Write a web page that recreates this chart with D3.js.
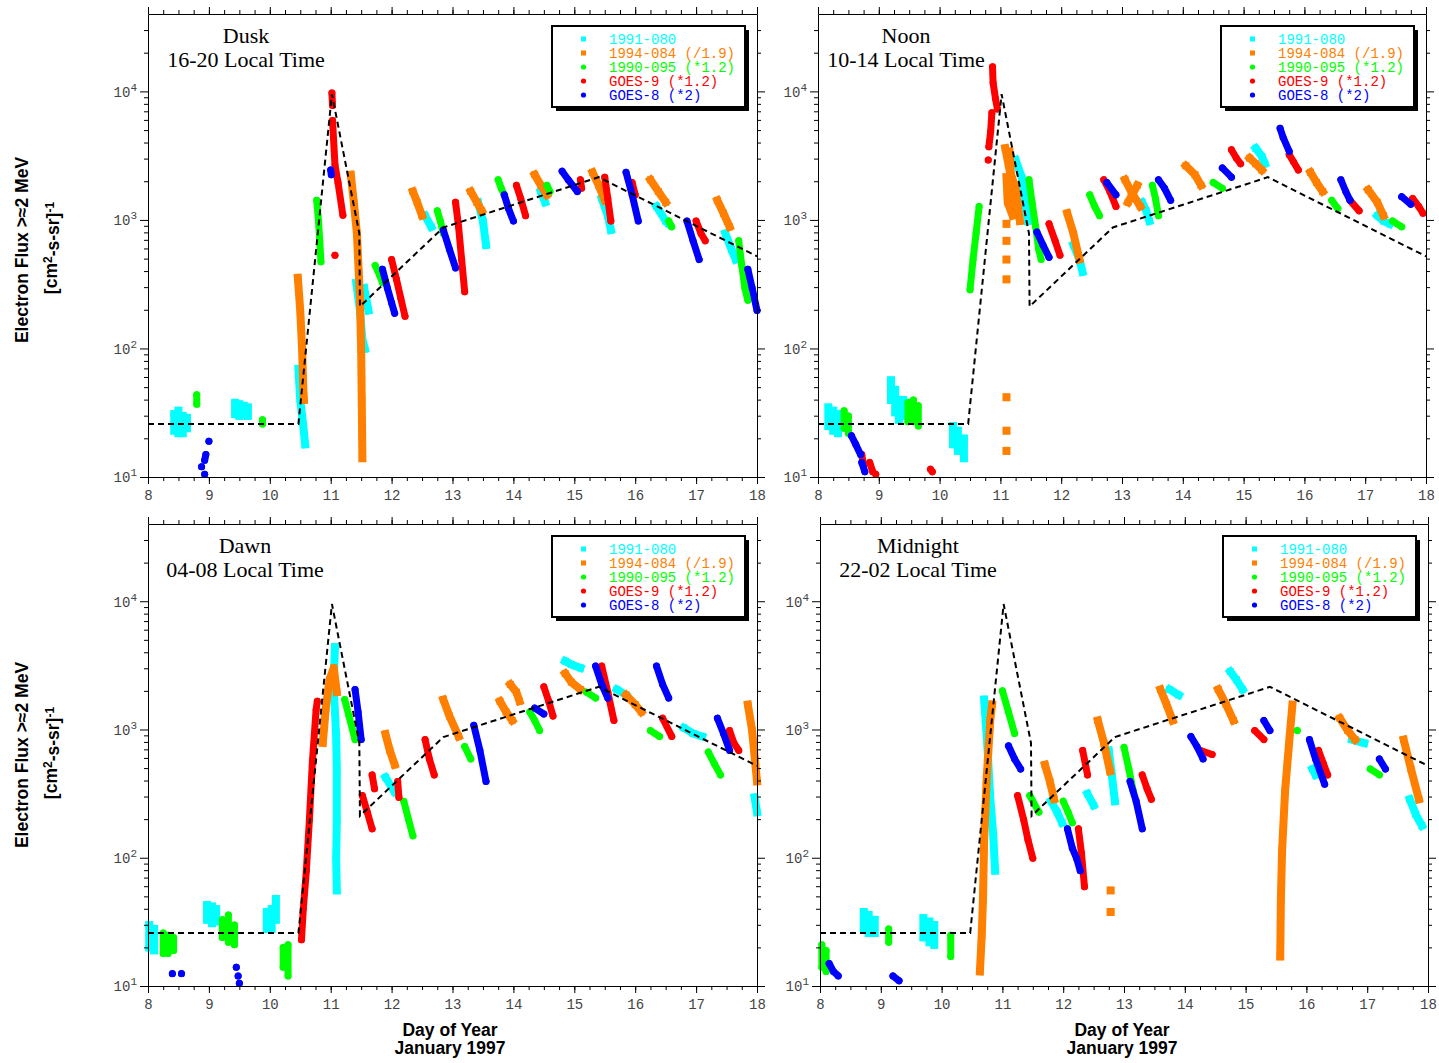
<!doctype html>
<html lang="en">
<head>
<meta charset="utf-8">
<title>Electron Flux, January 1997</title>
<script src="https://d3js.org/d3.v7.min.js"></script>
<style>
  body { margin: 0; background: #fff; }
  .tick text { font-family: "Liberation Mono", monospace; font-size: 14px; fill: #444; }
  .axis path, .axis line { stroke: #000; stroke-width: 1; }
  .ttl { font-family: "Liberation Serif", serif; font-size: 22px; fill: #000; }
  .lab { font-family: "Liberation Sans", Arial, sans-serif; font-size: 17.5px; font-weight: bold; fill: #000; }
  .leg { font-family: "Liberation Mono", monospace; font-size: 14px; }
</style>
</head>
<body>
<svg id="chart" width="1439" height="1063"></svg>
<script>
// ---- data: streaks of [day, flux] per spacecraft per local time sector ----
var xTicks = [8, 9, 10, 11, 12, 13, 14, 15, 16, 17, 18];
var yTickExps = [1, 2, 3, 4];
var seriesLabels = ["1991-080", "1994-084 (/1.9)", "1990-095 (*1.2)", "GOES-9 (*1.2)", "GOES-8 (*2)"];

// dashed reference curve (same in every panel)
var modelDays = [8, 10.47, 11.02, 11.47, 11.48, 12.85, 15.4, 18];
var modelFlux = [26, 26, 9800, 800, 215, 890, 2200, 530];

// Dusk 16-20
var duskC = [[[8.43,31],[8.43,23]], [[8.5,33],[8.5,22]], [[8.57,30],[8.57,22]], [[8.64,29],[8.64,24]],
  [[9.43,38],[9.43,31]], [[9.5,37],[9.5,30]], [[9.57,36],[9.57,31]], [[9.64,35],[9.64,30]],
  [[10.47,70],[10.5,40],[10.55,25],[10.58,18]],
  [[11.42,330],[11.48,200],[11.52,120],[11.56,100]], [[11.55,300],[11.62,200]],
  [[12.55,1100],[12.65,900]], [[13.42,1400],[13.5,1000],[13.55,650]],
  [[14.45,1700],[14.52,1400]], [[15.45,1500],[15.55,1100],[15.6,850]],
  [[16.35,1300],[16.5,1000],[16.55,950]], [[17.48,800],[17.58,600],[17.65,500]]];
var duskO = [[[10.46,360],[10.5,200],[10.53,100],[10.55,50],[10.56,40]],
  [[11.33,2300],[11.38,1400],[11.43,800],[11.46,400],[11.48,250],[11.5,100],[11.51,40],[11.52,14]],
  [[12.35,1700],[12.42,1400],[12.5,1100]], [[13.3,1700],[13.4,1400],[13.48,1200]],
  [[14.35,2300],[14.45,1900],[14.55,1600]], [[15.3,2400],[15.4,1900],[15.5,1450]],
  [[16.25,2100],[16.38,1700],[16.5,1400]], [[17.35,1450],[17.45,1150],[17.55,900]]];
var duskG = [[[8.8,44],[8.8,37]], [[9.88,28],[9.88,26]],
  [[10.77,1450],[10.8,1000],[10.82,700],[10.84,480]],
  [[11.73,450],[11.8,380],[11.85,330]], [[12.75,1200],[12.8,1000],[12.85,800]],
  [[13.75,2100],[13.8,1800],[13.85,1600]], [[14.55,1900],[14.6,1700]],
  [[16.55,1000],[16.6,900]], [[17.7,700],[17.75,450],[17.8,300],[17.85,240]]];
var duskR = [[[11.02,10000],[11.03,8000]],
  [[11.03,6100],[11.07,2750],[11.12,2000],[11.2,1110]], [[11.07,540]],
  [[12.0,500],[12.08,350],[12.15,250],[12.22,180]],
  [[13.05,1400],[13.1,900],[13.15,500],[13.2,280]],
  [[14.05,1900],[14.12,1500],[14.2,1100]], [[15.1,2100],[15.12,1800]],
  [[15.5,2200],[15.55,1500],[15.6,1000]], [[15.95,2000],[16.0,1600]],
  [[17.0,1000],[17.08,800],[17.15,700]]];
var duskB = [[[9.0,19]], [[8.95,15],[8.93,13.5]], [[8.88,12]], [[8.93,10.5]],
  [[11.0,2500],[11.01,2300]], [[11.85,420],[11.93,300],[12.0,230],[12.05,190]],
  [[12.85,850],[12.95,600],[13.05,430]], [[13.85,1600],[13.92,1250],[14.0,1000]],
  [[14.8,2450],[14.9,2100],[15.05,1700]], [[15.85,2400],[15.95,1600],[16.05,1000]],
  [[16.85,1000],[16.95,700],[17.05,500]], [[17.85,420],[17.92,300],[18.0,200]]];

// Noon 10-14
var noonC = [[[8.17,35],[8.17,25]], [[8.25,33],[8.25,23]], [[8.33,31],[8.33,22]],
  [[9.2,57],[9.2,40]], [[9.27,48],[9.27,32]], [[9.33,40],[9.33,28]],
  [[9.4,40],[9.4,30]], [[9.5,38],[9.5,29]],
  [[10.22,25],[10.22,18]], [[10.3,23],[10.3,16]], [[10.4,20],[10.4,14]],
  [[11.25,3000],[11.35,2200],[11.45,1000]],
  [[12.2,650],[12.3,500],[12.35,400]], [[13.33,1400],[13.4,1200],[13.45,1000]],
  [[15.2,3700],[15.3,3200],[15.35,2800]], [[17.2,1100],[17.3,1000],[17.4,950]]];
var noonO = [[[11.08,3700],[11.15,2500],[11.25,1800],[11.32,1000]],
  [[11.1,2200],[11.12,1400],[11.2,1100]], [[11.15,3500],[11.18,2000],[11.22,1300]],
  [[11.1,950]], [[11.1,700]], [[11.1,500]], [[11.1,350]], [[11.1,42]], [[11.1,23]], [[11.1,16]],
  [[12.1,1150],[12.2,800],[12.3,500]], [[13.05,2100],[13.15,1700],[13.3,1300]],
  [[13.1,1400],[13.25,1900]], [[14.05,2700],[14.2,2300],[14.3,1900]],
  [[15.1,3100],[15.2,2800],[15.3,2500]], [[16.1,2400],[16.2,2000],[16.3,1700]],
  [[17.05,1750],[17.2,1400],[17.3,1100]]];
var noonG = [[[8.43,33],[8.43,24]], [[8.5,30],[8.5,22]],
  [[9.48,38],[9.48,27]], [[9.57,40],[9.57,27]], [[9.65,36],[9.65,25]],
  [[10.5,290],[10.55,500],[10.6,800],[10.65,1300]],
  [[11.47,2100],[11.52,1400],[11.58,900],[11.63,600],[11.67,500]],
  [[12.47,1600],[12.55,1300],[12.63,1100]], [[13.5,1900],[13.55,1500],[13.6,1100]],
  [[14.5,2000],[14.65,1800]], [[16.45,1450],[16.55,1250]], [[17.45,1000],[17.6,900]]];
var noonR = [[[8.72,15],[8.75,12]], [[8.85,13],[8.9,11]], [[8.95,10.5]], [[9.85,11.5],[9.88,11]],
  [[10.87,16000],[10.88,12000],[10.92,9000],[10.95,7500]],
  [[10.86,7000],[10.84,5000],[10.81,3800]], [[10.8,3000]],
  [[11.8,950],[11.9,700],[11.98,540]], [[12.7,2100],[12.8,1700],[12.9,1300]],
  [[14.8,3600],[14.88,3100],[14.95,2800]], [[15.75,3300],[15.82,2900],[15.9,2500]],
  [[16.75,1450],[16.9,1200]], [[17.78,1500],[17.88,1300],[17.95,1150]]];
var noonB = [[[8.55,21],[8.62,18],[8.7,15]], [[8.72,13],[8.77,11]],
  [[11.6,820],[11.7,650],[11.8,520]], [[12.75,2000],[12.9,1600]],
  [[13.6,2100],[13.7,1800],[13.8,1450]], [[14.65,2600],[14.8,2200]],
  [[15.6,5300],[15.65,4500],[15.75,3500]], [[16.6,2100],[16.68,1700],[16.75,1450]],
  [[17.6,1550],[17.75,1350]]];

// Dawn 04-08
var dawnC = [[[8.02,30],[8.02,20]], [[8.1,28],[8.1,19]],
  [[8.97,43],[8.97,33]], [[9.05,42],[9.05,31]], [[9.12,40],[9.12,32]],
  [[9.95,38],[9.95,28]], [[10.03,40],[10.03,28]], [[10.1,48],[10.1,33]],
  [[11.07,4500],[11.05,2500],[11.06,1750],[11.09,900],[11.1,500],[11.1,200],[11.09,100],[11.1,56]],
  [[11.9,430],[12.05,330]], [[14.85,3500],[14.95,3300],[15.1,3100]],
  [[15.7,2100],[15.85,1900]], [[16.8,1050],[16.95,950],[17.1,900]], [[17.96,300],[18.0,230]]];
var dawnO = [[[10.87,800],[10.92,1500],[10.98,2500],[11.05,3100],[11.1,2000]],
  [[11.9,940],[11.97,700],[12.05,540]], [[12.85,1750],[12.95,1300],[13.1,900]],
  [[13.78,1700],[13.88,1400],[13.98,1200]], [[13.95,2300],[14.05,2000],[14.1,1700]],
  [[14.85,2800],[14.95,2400],[15.1,2100]], [[15.85,1900],[16.0,1600],[16.1,1400]],
  [[17.85,1600],[17.92,1000],[18.0,400]]];
var dawnG = [[[8.25,26],[8.25,18]], [[8.33,25],[8.33,18]], [[8.42,24],[8.42,19]],
  [[9.22,33],[9.22,24]], [[9.32,36],[9.32,22]], [[9.42,30],[9.42,21]],
  [[10.22,20],[10.22,14]], [[10.3,21],[10.3,12]],
  [[11.23,1750],[11.3,1300],[11.4,850]],
  [[12.2,280],[12.28,200],[12.35,150]], [[13.2,750],[13.3,600]],
  [[14.27,1400],[14.35,1200],[14.43,1000]], [[15.2,2000],[15.35,1800]],
  [[16.25,1000],[16.4,900]], [[17.2,680],[17.3,550],[17.4,450]]];
var dawnR = [[[10.52,23],[10.55,40],[10.6,80],[10.65,200],[10.7,580],[10.76,1450],[10.78,1700]],
  [[11.52,310],[11.6,230],[11.68,170]], [[11.68,450],[11.72,350]], [[12.1,400],[12.12,300]],
  [[12.55,850],[12.62,600],[12.7,450]], [[14.5,2200],[14.58,1700],[14.65,1300]],
  [[15.45,3200],[15.55,2000],[15.65,1200]], [[16.45,1250],[16.6,900]],
  [[17.55,1000],[17.62,800],[17.7,700]]];
var dawnB = [[[8.4,12.5]], [[8.55,12.5]], [[9.45,14]], [[9.48,12]], [[9.5,10.5]],
  [[11.4,2100],[11.45,1400],[11.5,850]], [[13.35,1100],[13.45,700],[13.55,400]],
  [[14.35,1500],[14.5,1350]], [[15.35,3200],[15.45,2300],[15.55,1800]],
  [[16.35,3200],[16.45,2300],[16.55,1800]], [[17.35,1250],[17.45,950],[17.55,700]]];

// Midnight 22-02
var midC = [[[8.72,38],[8.72,28]], [[8.8,36],[8.8,26]], [[8.9,33],[8.9,26]],
  [[9.7,34],[9.7,24]], [[9.8,32],[9.8,22]], [[9.88,30],[9.88,21]],
  [[10.7,1750],[10.75,800],[10.8,300],[10.85,150],[10.88,80]],
  [[11.8,280],[11.9,230],[11.98,190]], [[12.4,320],[12.5,260]],
  [[12.75,700],[12.8,450],[12.85,280]], [[13.75,2100],[13.9,1900]],
  [[14.75,2900],[14.85,2500],[14.95,2100]], [[16.1,500],[16.15,450]],
  [[16.75,850],[16.95,800]], [[17.7,290],[17.8,220],[17.9,180]]];
var midO = [[[10.63,13],[10.66,25],[10.68,47],[10.7,140],[10.74,410],[10.8,1200],[10.83,1600]],
  [[11.7,540],[11.78,400],[11.85,290]], [[12.57,1200],[12.67,800],[12.77,480]],
  [[12.78,56]], [[12.78,38]], [[13.6,2100],[13.7,1600],[13.8,1200]],
  [[14.55,2100],[14.68,1600],[14.8,1200]],
  [[15.77,1600],[15.72,850],[15.65,340],[15.6,115],[15.58,47],[15.57,17]],
  [[16.55,1250],[16.68,1000],[16.8,850]], [[17.6,850],[17.72,500],[17.85,290]]];
var midG = [[[8.03,21],[8.03,14]], [[8.1,19],[8.1,13]], [[9.13,28],[9.13,22]], [[10.15,25],[10.15,17]],
  [[11.0,2050],[11.1,1400],[11.2,950]], [[11.45,310],[11.6,230]],
  [[12.0,280],[12.08,230],[12.15,190]], [[13.0,740],[13.08,500],[13.15,340]],
  [[15.85,1000]], [[17.05,500],[17.2,450]]];
var midR = [[[11.25,310],[11.35,200],[11.42,140],[11.5,100]],
  [[12.25,170],[12.3,110],[12.35,60]], [[12.32,700],[12.4,450]],
  [[13.3,450],[13.38,350],[13.45,290]], [[14.25,700],[14.45,650]],
  [[15.15,1000],[15.3,850]], [[16.2,700],[16.28,550],[16.35,450]]];
var midB = [[[8.15,15],[8.22,13],[8.3,12]], [[9.2,12],[9.3,11]],
  [[11.1,760],[11.2,600],[11.3,500]], [[12.07,170],[12.15,120],[12.22,100],[12.28,80]],
  [[13.1,400],[13.2,280],[13.3,170]], [[14.1,900],[14.2,750],[14.3,600]],
  [[15.3,1200],[15.4,1000]], [[16.05,850],[16.15,600],[16.3,380]], [[17.2,600],[17.3,500]]];

// ---- styles / layout ----
var colors = ["#00ffff", "#ff7f00", "#00ff00", "#ff0000", "#0000ff"];
var isSquare = [true, true, false, false, false];

var panels = [
  {name: "Dusk", lt: "16-20 Local Time", data: [duskC, duskO, duskG, duskR, duskB],
   left: 148, right: 757, top: 14, bottom: 477, tx: 246, ty: 43},
  {name: "Noon", lt: "10-14 Local Time", data: [noonC, noonO, noonG, noonR, noonB],
   left: 818, right: 1426, top: 14, bottom: 477, tx: 906, ty: 43},
  {name: "Dawn", lt: "04-08 Local Time", data: [dawnC, dawnO, dawnG, dawnR, dawnB],
   left: 148, right: 757, top: 524, bottom: 986, tx: 245, ty: 553},
  {name: "Midnight", lt: "22-02 Local Time", data: [midC, midO, midG, midR, midB],
   left: 820, right: 1428, top: 524, bottom: 986, tx: 918, ty: 553}
];

var svg = d3.select("#chart");
svg.append("rect").attr("width", 1439).attr("height", 1063).attr("fill", "#fff");

panels.forEach(function(p) {
  var x = d3.scaleLinear().domain([8, 18]).range([p.left, p.right]);
  var decade = (p.bottom === 477) ? 128 : 127.7;
  var y = d3.scaleLog().domain([10, 4e4]).range([p.bottom, p.bottom - Math.log10(4e3) * decade]);
  var g = svg.append("g");

  // data streaks
  var line = d3.line().x(function(d) { return x(d[0]); }).y(function(d) { return y(d[1]); });
  p.data.forEach(function(streaks, si) {
    var sg = g.append("g");
    sg.selectAll("path").data(streaks).enter().append("path")
      .attr("d", line)
      .attr("fill", "none")
      .attr("stroke", colors[si])
      .attr("stroke-width", isSquare[si] ? 8 : 7)
      .attr("stroke-linecap", isSquare[si] ? "square" : "round")
      .attr("stroke-linejoin", "round");
    var pts = [].concat.apply([], streaks);
    if (isSquare[si]) {
      sg.selectAll("rect").data(pts).enter().append("rect")
        .attr("x", function(d) { return x(d[0]) - 3.5; })
        .attr("y", function(d) { return y(d[1]) - 3.5; })
        .attr("width", 7).attr("height", 7).attr("fill", colors[si]);
    } else {
      sg.selectAll("circle").data(pts).enter().append("circle")
        .attr("cx", function(d) { return x(d[0]); })
        .attr("cy", function(d) { return y(d[1]); })
        .attr("r", 3.5).attr("fill", colors[si]);
    }
  });

  // dashed model line
  var model = modelDays.map(function(d, i) { return [d, modelFlux[i]]; });
  g.append("path").attr("d", line(model))
    .attr("fill", "none").attr("stroke", "#000").attr("stroke-width", 2)
    .attr("stroke-dasharray", "6,4");

  // axes
  var minorX = d3.range(8, 18.001, 0.25);
  var minorY = [];
  for (var e = 1; e <= 4; e++) for (var m = 2; m <= 9; m++) if (m * Math.pow(10, e) < 4e4) minorY.push(m * Math.pow(10, e));

  g.append("g").attr("class", "axis").attr("transform", "translate(0," + p.bottom + ")")
    .call(d3.axisBottom(x).tickValues(minorX).tickSize(4).tickSizeOuter(0).tickFormat(""));
  g.append("g").attr("class", "axis").attr("transform", "translate(0," + p.bottom + ")")
    .call(d3.axisBottom(x).tickValues(xTicks).tickSize(7).tickSizeOuter(0).tickPadding(6).tickFormat(d3.format("d")))
    .select(".domain").remove();
  g.append("g").attr("class", "axis").attr("transform", "translate(0," + p.top + ")")
    .call(d3.axisTop(x).tickValues(minorX).tickSize(4).tickSizeOuter(0).tickFormat(""));
  g.append("g").attr("class", "axis").attr("transform", "translate(0," + p.top + ")")
    .call(d3.axisTop(x).tickValues(xTicks).tickSize(7).tickSizeOuter(0).tickFormat(""))
    .select(".domain").remove();

  y = d3.scaleLog().domain(y.domain()).range([p.bottom, p.top]);
  [["left", p.left, d3.axisLeft], ["right", p.right, d3.axisRight]].forEach(function(s) {
    g.append("g").attr("class", "axis").attr("transform", "translate(" + s[1] + ",0)")
      .call(s[2](y).tickValues(minorY).tickSize(4).tickSizeOuter(0).tickFormat(""));
    var ax = g.append("g").attr("class", "axis").attr("transform", "translate(" + s[1] + ",0)")
      .call(s[2](y).tickValues(yTickExps.map(function(k) { return Math.pow(10, k); }))
        .tickSize(8).tickSizeOuter(0).tickPadding(3).tickFormat(function() { return s[0] === "left" ? "10" : ""; }));
    ax.select(".domain").remove();
    if (s[0] === "left") {
      ax.selectAll(".tick text").each(function(d) {
        var t = d3.select(this);
        t.text("10").attr("dy", "0.35em");
        t.append("tspan").attr("dy", "-0.55em").style("font-size", "11px").text(Math.round(Math.log10(d)));
      });
    }
  });

  // panel title
  g.append("text").attr("class", "ttl").attr("x", p.tx).attr("y", p.ty).attr("text-anchor", "middle").text(p.name);
  g.append("text").attr("class", "ttl").attr("x", p.tx).attr("y", p.ty + 24).attr("text-anchor", "middle").text(p.lt);

  // legend
  var bx = p.right - 205, by = p.top + 12, bw = 193, bh = 81;
  g.append("rect").attr("x", bx + 4).attr("y", by + 4).attr("width", bw).attr("height", bh).attr("fill", "#000");
  g.append("rect").attr("x", bx).attr("y", by).attr("width", bw).attr("height", bh)
    .attr("fill", "#fff").attr("stroke", "#000").attr("stroke-width", 2);
  seriesLabels.forEach(function(lbl, i) {
    var ly = by + 13 + i * 14;
    if (isSquare[i]) {
      g.append("rect").attr("x", bx + 29).attr("y", ly - 2.5).attr("width", 5).attr("height", 5).attr("fill", colors[i]);
    } else {
      g.append("circle").attr("cx", bx + 31.5).attr("cy", ly).attr("r", 2.6).attr("fill", colors[i]);
    }
    g.append("text").attr("class", "leg").attr("x", bx + 57).attr("y", ly + 4.5)
      .attr("fill", colors[i]).text(lbl);
  });
});

// axis titles
[[250, 248], [755, 753]].forEach(function(c) {
  svg.append("text").attr("class", "lab").attr("transform", "translate(28," + c[0] + ") rotate(-90)")
    .attr("text-anchor", "middle").text("Electron Flux >\u22482 MeV");
  var t2 = svg.append("text").attr("class", "lab").attr("transform", "translate(57," + c[1] + ") rotate(-90)")
    .attr("text-anchor", "middle");
  t2.append("tspan").text("[cm");
  t2.append("tspan").attr("dy", "-0.45em").style("font-size", "12px").text("2");
  t2.append("tspan").attr("dy", "0.45em").text("-s-sr]");
  t2.append("tspan").attr("dy", "-0.45em").style("font-size", "12px").text("-1");
});
[450, 1122].forEach(function(cx) {
  svg.append("text").attr("class", "lab").attr("x", cx).attr("y", 1036).attr("text-anchor", "middle").text("Day of Year");
  svg.append("text").attr("class", "lab").attr("x", cx).attr("y", 1054).attr("text-anchor", "middle").text("January 1997");
});
</script>
</body>
</html>
